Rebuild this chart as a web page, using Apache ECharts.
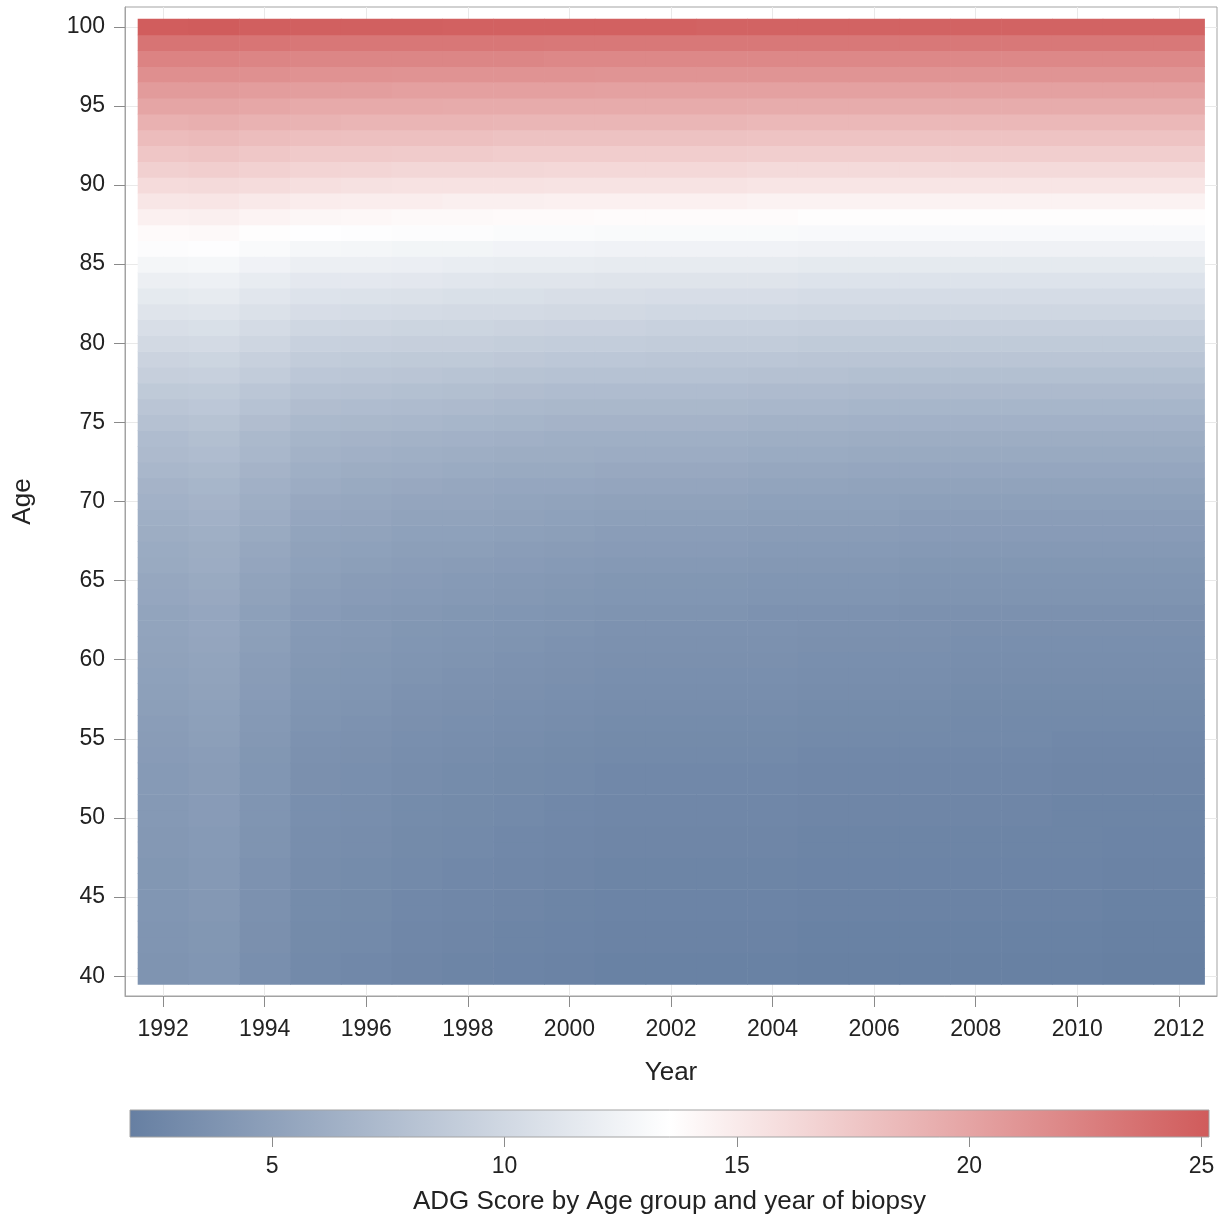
<!DOCTYPE html>
<html>
<head>
<meta charset="utf-8">
<script src="https://cdn.jsdelivr.net/npm/echarts@6/dist/echarts.min.js"></script>
<style>
  html, body { margin: 0; padding: 0; background: #ffffff; }
  #chart { width: 1225px; height: 1222px; }
</style>
</head>
<body>
<div id="chart"></div>
<script>
// Axis categories and tick labels
const years = [1992, 1993, 1994, 1995, 1996, 1997, 1998, 1999, 2000, 2001, 2002,
               2003, 2004, 2005, 2006, 2007, 2008, 2009, 2010, 2011, 2012];
const ages = [40, 41, 42, 43, 44, 45, 46, 47, 48, 49,
              50, 51, 52, 53, 54, 55, 56, 57, 58, 59,
              60, 61, 62, 63, 64, 65, 66, 67, 68, 69,
              70, 71, 72, 73, 74, 75, 76, 77, 78, 79,
              80, 81, 82, 83, 84, 85, 86, 87, 88, 89,
              90, 91, 92, 93, 94, 95, 96, 97, 98, 99, 100];
const yearTicks = [1992, 1994, 1996, 1998, 2000, 2002, 2004, 2006, 2008, 2010, 2012];
const ageTicks = [40, 45, 50, 55, 60, 65, 70, 75, 80, 85, 90, 95, 100];
const scoreTicks = [5, 10, 15, 20, 25];
const scoreRange = [1.94, 25.16];
const rampColors = ['#667fa2', '#ffffff', '#d05b5b'];

// ADG score per age (40..100) for each biopsy year
const score1992 = [3.8,3.8,3.9,3.9,4.0,4.0,4.1,4.1,4.2,4.2,
  4.3,4.3,4.4,4.4,4.5,4.6,4.7,4.8,4.9,5.0,
  5.1,5.2,5.3,5.3,5.5,5.6,5.8,5.9,6.1,6.3,
  6.5,6.7,7.0,7.3,7.5,7.9,8.3,8.7,9.2,9.6,
  10.1,10.6,11.1,11.6,12.1,12.7,13.3,13.9,14.6,15.3,
  16.1,16.9,17.6,18.3,19.1,19.9,20.6,21.5,22.3,23.4, 25.0];
const score1993 = [4.0,4.0,4.1,4.1,4.2,4.2,4.3,4.3,4.4,4.4,
  4.5,4.5,4.6,4.6,4.7,4.8,4.9,5.0,5.1,5.2,
  5.3,5.4,5.5,5.5,5.7,5.8,6.0,6.1,6.3,6.5,
  6.7,6.9,7.2,7.5,7.7,8.1,8.5,8.8,9.3,9.7,
  10.2,10.7,11.2,11.7,12.2,12.8,13.4,14.0,14.7,15.4,
  16.2,17.0,17.7,18.4,19.2,19.9,20.6,21.5,22.3,23.4, 25.1];
const score1994 = [3.4,3.4,3.5,3.5,3.6,3.6,3.7,3.7,3.8,3.8,
  3.9,3.9,4.0,4.0,4.1,4.2,4.3,4.4,4.5,4.6,
  4.7,4.8,4.9,4.9,5.1,5.2,5.4,5.6,5.8,6.0,
  6.2,6.4,6.7,7.0,7.2,7.6,8.0,8.4,8.9,9.3,
  9.8,10.3,10.8,11.3,11.8,12.4,13.1,13.7,14.4,15.1,
  16.0,16.8,17.5,18.2,19.0,19.8,20.5,21.4,22.2,23.3, 24.9];
const score1995 = [2.9,2.9,3.0,3.0,3.1,3.1,3.2,3.2,3.3,3.3,
  3.4,3.4,3.5,3.5,3.6,3.7,3.8,3.9,4.0,4.1,
  4.2,4.3,4.4,4.5,4.7,4.8,5.0,5.1,5.3,5.5,
  5.7,6.0,6.3,6.6,6.8,7.2,7.6,8.0,8.5,8.9,
  9.4,9.9,10.5,11.0,11.5,12.1,12.8,13.5,14.2,14.9,
  15.8,16.6,17.3,18.1,18.9,19.6,20.4,21.3,22.1,23.2, 24.8];
const score1996 = [2.8,2.8,2.9,2.9,3.0,3.0,3.1,3.1,3.2,3.2,
  3.3,3.3,3.4,3.4,3.5,3.6,3.7,3.8,3.9,4.0,
  4.1,4.2,4.3,4.3,4.5,4.6,4.8,5.0,5.2,5.4,
  5.6,5.8,6.1,6.4,6.7,7.1,7.5,7.9,8.4,8.8,
  9.3,9.8,10.4,10.9,11.5,12.1,12.7,13.4,14.1,14.8,
  15.7,16.5,17.3,18.0,18.8,19.6,20.4,21.3,22.1,23.2, 24.8];
const score1997 = [2.6,2.6,2.7,2.7,2.8,2.8,2.9,2.9,3.0,3.0,
  3.1,3.1,3.2,3.2,3.3,3.4,3.5,3.6,3.7,3.8,
  3.9,4.0,4.1,4.2,4.4,4.5,4.7,4.8,5.0,5.2,
  5.4,5.7,6.0,6.3,6.6,7.0,7.4,7.8,8.3,8.7,
  9.2,9.7,10.3,10.8,11.4,12.0,12.6,13.3,14.0,14.8,
  15.6,16.4,17.2,18.0,18.8,19.6,20.3,21.2,22.1,23.2, 24.8];
const score1998 = [2.5,2.5,2.6,2.6,2.7,2.7,2.8,2.8,2.9,2.9,
  3.0,3.0,3.1,3.1,3.2,3.3,3.4,3.5,3.6,3.7,
  3.8,3.9,4.0,4.1,4.3,4.4,4.6,4.8,5.0,5.2,
  5.4,5.6,5.9,6.2,6.5,6.9,7.3,7.7,8.2,8.7,
  9.2,9.7,10.2,10.7,11.3,11.9,12.6,13.3,14.0,14.7,
  15.6,16.4,17.2,18.0,18.8,19.5,20.3,21.2,22.1,23.2, 24.7];
const score1999 = [2.4,2.4,2.5,2.5,2.6,2.6,2.7,2.7,2.8,2.8,
  2.9,2.9,3.0,3.0,3.1,3.2,3.3,3.4,3.5,3.6,
  3.7,3.8,3.9,4.0,4.2,4.3,4.5,4.7,4.9,5.1,
  5.3,5.5,5.8,6.1,6.4,6.8,7.2,7.6,8.1,8.6,
  9.1,9.6,10.2,10.7,11.2,11.8,12.5,13.2,13.9,14.7,
  15.6,16.4,17.1,17.9,18.7,19.5,20.3,21.2,22.1,23.2, 24.7];
const score2000 = [2.3,2.3,2.4,2.4,2.5,2.5,2.6,2.6,2.7,2.7,
  2.8,2.8,2.9,2.9,3.0,3.1,3.2,3.3,3.4,3.5,
  3.6,3.7,3.8,3.9,4.1,4.2,4.4,4.6,4.8,5.0,
  5.2,5.5,5.8,6.1,6.3,6.7,7.1,7.5,8.0,8.5,
  9.0,9.5,10.1,10.6,11.2,11.8,12.5,13.2,13.9,14.6,
  15.5,16.3,17.1,17.9,18.7,19.5,20.3,21.2,22.0,23.1, 24.7];
const score2001 = [2.2,2.2,2.3,2.3,2.4,2.4,2.5,2.5,2.6,2.6,
  2.7,2.7,2.8,2.8,2.9,3.0,3.1,3.2,3.3,3.4,
  3.5,3.6,3.7,3.8,4.0,4.1,4.3,4.5,4.7,4.9,
  5.1,5.4,5.7,6.0,6.3,6.7,7.1,7.5,8.0,8.5,
  9.0,9.5,10.1,10.6,11.1,11.7,12.4,13.1,13.8,14.6,
  15.5,16.3,17.1,17.9,18.7,19.5,20.2,21.1,22.0,23.1, 24.7];
const score2002 = [2.2,2.2,2.3,2.3,2.4,2.4,2.5,2.5,2.6,2.6,
  2.7,2.7,2.8,2.8,2.9,3.0,3.1,3.2,3.3,3.4,
  3.5,3.6,3.7,3.8,4.0,4.1,4.3,4.5,4.7,4.9,
  5.1,5.4,5.7,6.0,6.3,6.7,7.1,7.5,8.0,8.4,
  8.9,9.4,10.0,10.5,11.1,11.7,12.4,13.1,13.8,14.6,
  15.5,16.3,17.1,17.9,18.7,19.5,20.2,21.1,22.0,23.1, 24.7];
const score2003 = [2.2,2.2,2.3,2.3,2.4,2.4,2.5,2.5,2.6,2.6,
  2.7,2.7,2.8,2.8,2.9,3.0,3.1,3.2,3.3,3.4,
  3.5,3.6,3.7,3.8,4.0,4.1,4.3,4.5,4.7,4.9,
  5.1,5.4,5.7,6.0,6.3,6.7,7.1,7.5,8.0,8.4,
  8.9,9.4,10.0,10.5,11.1,11.7,12.4,13.1,13.8,14.6,
  15.5,16.3,17.1,17.9,18.7,19.5,20.2,21.1,22.0,23.1, 24.6];
const score2004 = [2.2,2.2,2.3,2.3,2.4,2.4,2.5,2.5,2.6,2.6,
  2.7,2.7,2.8,2.8,2.9,3.0,3.1,3.2,3.3,3.4,
  3.5,3.6,3.7,3.7,3.9,4.0,4.2,4.4,4.6,4.8,
  5.0,5.3,5.6,5.9,6.2,6.6,7.0,7.4,7.9,8.4,
  8.9,9.4,10.0,10.5,11.1,11.7,12.4,13.1,13.8,14.5,
  15.4,16.2,17.0,17.8,18.6,19.4,20.2,21.1,22.0,23.1, 24.6];
const score2005 = [2.1,2.1,2.2,2.2,2.3,2.3,2.4,2.4,2.5,2.5,
  2.6,2.6,2.7,2.7,2.8,2.9,3.0,3.1,3.2,3.3,
  3.4,3.5,3.6,3.7,3.9,4.0,4.2,4.4,4.6,4.8,
  5.0,5.3,5.6,5.9,6.2,6.6,7.0,7.4,7.9,8.3,
  8.8,9.3,9.9,10.4,11.0,11.6,12.3,13.0,13.7,14.5,
  15.4,16.2,17.0,17.8,18.6,19.4,20.2,21.1,22.0,23.1, 24.6];
const score2006 = [2.1,2.1,2.2,2.2,2.3,2.3,2.4,2.4,2.5,2.5,
  2.6,2.6,2.7,2.7,2.8,2.9,3.0,3.1,3.2,3.3,
  3.4,3.5,3.6,3.7,3.9,4.0,4.2,4.4,4.6,4.8,
  5.0,5.2,5.5,5.8,6.1,6.5,6.9,7.3,7.8,8.3,
  8.8,9.3,9.9,10.4,11.0,11.6,12.3,13.0,13.7,14.5,
  15.4,16.2,17.0,17.8,18.6,19.4,20.2,21.1,22.0,23.1, 24.6];
const score2007 = [2.1,2.1,2.2,2.2,2.3,2.3,2.4,2.4,2.5,2.5,
  2.6,2.6,2.7,2.7,2.8,2.9,3.0,3.1,3.2,3.3,
  3.4,3.5,3.6,3.6,3.8,3.9,4.1,4.3,4.5,4.7,
  4.9,5.2,5.5,5.8,6.1,6.5,6.9,7.3,7.8,8.3,
  8.8,9.3,9.9,10.4,11.0,11.6,12.3,13.0,13.7,14.5,
  15.4,16.2,17.0,17.8,18.6,19.4,20.2,21.1,22.0,23.1, 24.6];
const score2008 = [2.1,2.1,2.2,2.2,2.3,2.3,2.4,2.4,2.5,2.5,
  2.6,2.6,2.7,2.7,2.8,2.9,2.9,3.0,3.1,3.2,
  3.3,3.4,3.5,3.6,3.8,3.9,4.1,4.3,4.5,4.7,
  4.9,5.2,5.5,5.8,6.1,6.5,6.9,7.3,7.8,8.3,
  8.8,9.3,9.9,10.4,11.0,11.6,12.3,13.0,13.7,14.5,
  15.4,16.2,17.0,17.8,18.6,19.4,20.2,21.1,22.0,23.1, 24.6];
const score2009 = [2.1,2.1,2.2,2.2,2.3,2.3,2.4,2.4,2.5,2.5,
  2.6,2.6,2.7,2.7,2.8,2.9,2.9,3.0,3.1,3.2,
  3.3,3.4,3.5,3.6,3.8,3.9,4.1,4.3,4.5,4.7,
  4.9,5.2,5.5,5.8,6.1,6.5,6.9,7.3,7.8,8.3,
  8.8,9.3,9.9,10.4,11.0,11.6,12.3,13.0,13.7,14.5,
  15.4,16.2,17.0,17.8,18.6,19.4,20.2,21.1,22.0,23.1, 24.6];
const score2010 = [2.1,2.1,2.2,2.2,2.3,2.3,2.4,2.4,2.5,2.5,
  2.5,2.5,2.6,2.6,2.7,2.8,2.9,3.0,3.1,3.2,
  3.3,3.4,3.5,3.6,3.8,3.9,4.1,4.3,4.5,4.7,
  4.9,5.2,5.5,5.8,6.1,6.5,6.9,7.3,7.8,8.3,
  8.8,9.3,9.9,10.4,11.0,11.6,12.3,13.0,13.7,14.5,
  15.4,16.2,17.0,17.8,18.6,19.4,20.2,21.1,22.0,23.1, 24.6];
const score2011 = [2.0,2.0,2.1,2.1,2.2,2.2,2.3,2.3,2.4,2.4,
  2.5,2.5,2.6,2.6,2.7,2.8,2.9,3.0,3.1,3.2,
  3.3,3.4,3.5,3.6,3.8,3.9,4.1,4.3,4.5,4.7,
  4.9,5.2,5.5,5.8,6.1,6.5,6.9,7.3,7.8,8.3,
  8.8,9.3,9.9,10.4,11.0,11.6,12.3,13.0,13.7,14.5,
  15.4,16.2,17.0,17.8,18.6,19.4,20.2,21.1,22.0,23.1, 24.6];
const score2012 = [2.0,2.0,2.1,2.1,2.2,2.2,2.3,2.3,2.4,2.4,
  2.5,2.5,2.6,2.6,2.7,2.8,2.9,3.0,3.1,3.2,
  3.3,3.4,3.5,3.6,3.8,3.9,4.1,4.3,4.5,4.7,
  4.9,5.2,5.5,5.8,6.1,6.5,6.9,7.3,7.8,8.3,
  8.8,9.3,9.9,10.4,11.0,11.6,12.3,13.0,13.7,14.5,
  15.4,16.2,17.0,17.8,18.6,19.4,20.2,21.1,22.0,23.1, 24.6];

const scoresByYear = [score1992, score1993, score1994, score1995, score1996, score1997,
  score1998, score1999, score2000, score2001, score2002, score2003, score2004,
  score2005, score2006, score2007, score2008, score2009, score2010, score2011, score2012];

// Flatten into [year, age, score] cells
const cells = [];
years.forEach(function (yr, i) {
  ages.forEach(function (age, j) {
    cells.push([yr, age, scoresByYear[i][j]]);
  });
});

const FONT = 'Liberation Sans, Arial, sans-serif';
const TEXT = '#222222';
const FRAME = '#a3a3a3';
const GRIDLINE = '#e9e9e9';

// One rectangle per year/age cell, spanning half a unit each side of its centre
function renderCell(params, api) {
  const yr = api.value(0);
  const age = api.value(1);
  const p0 = api.coord([yr - 0.5, age + 0.5]);
  const p1 = api.coord([yr + 0.5, age - 0.5]);
  return {
    type: 'rect',
    shape: { x: p0[0], y: p0[1], width: p1[0] - p0[0] + 0.6, height: p1[1] - p0[1] + 0.6 },
    style: { fill: api.visual('color') }
  };
}

// Gradient strip for the colour legend
function renderRamp(params, api) {
  const p0 = api.coord([api.value(0), 1]);
  const p1 = api.coord([api.value(1), 0]);
  return {
    type: 'rect',
    shape: { x: p0[0], y: p0[1], width: p1[0] - p0[0], height: p1[1] - p0[1] },
    style: {
      fill: new echarts.graphic.LinearGradient(0, 0, 1, 0, [
        { offset: 0, color: rampColors[0] },
        { offset: 0.5, color: rampColors[1] },
        { offset: 1, color: rampColors[2] }
      ]),
      stroke: FRAME,
      lineWidth: 1
    }
  };
}

const chart = echarts.init(document.getElementById('chart'), null, { renderer: 'canvas' });

chart.setOption({
  animation: false,
  backgroundColor: '#ffffff',
  textStyle: { fontFamily: FONT },
  grid: [
    { left: 125, right: 8, top: 7, bottom: 226, show: true, borderColor: FRAME, borderWidth: 1, backgroundColor: '#ffffff' },
    { left: 130, right: 16, top: 1110, height: 27, show: false }
  ],
  visualMap: {
    type: 'continuous',
    show: false,
    seriesIndex: 0,
    dimension: 2,
    min: scoreRange[0],
    max: scoreRange[1],
    inRange: { color: rampColors }
  },
  xAxis: [
    {
      gridIndex: 0,
      type: 'value',
      min: 1991.25,
      max: 2012.75,
      minInterval: 2,
      maxInterval: 2,
      name: 'Year',
      nameLocation: 'middle',
      nameGap: 64,
      nameTextStyle: { fontSize: 26, color: TEXT, fontFamily: FONT },
      axisLine: { show: true, onZero: false, lineStyle: { color: FRAME, width: 1 } },
      axisTick: { show: true, inside: false, length: 11, customValues: yearTicks, lineStyle: { color: '#8a8a8a' } },
      axisLabel: { customValues: yearTicks, margin: 22, fontSize: 23, color: TEXT, fontFamily: FONT, formatter: function (v) { return String(v); } },
      splitLine: { show: true, lineStyle: { color: GRIDLINE, width: 1 } }
    },
    {
      gridIndex: 1,
      type: 'value',
      min: scoreRange[0],
      max: scoreRange[1],
      name: 'ADG Score by Age group and year of biopsy',
      nameLocation: 'middle',
      nameGap: 52,
      nameTextStyle: { fontSize: 26, color: TEXT, fontFamily: FONT },
      axisLine: { show: false },
      axisTick: { show: true, inside: false, length: 10, customValues: scoreTicks, lineStyle: { color: '#8a8a8a' } },
      axisLabel: { customValues: scoreTicks, margin: 18, fontSize: 23, color: TEXT, fontFamily: FONT },
      splitLine: { show: false }
    }
  ],
  yAxis: [
    {
      gridIndex: 0,
      type: 'value',
      min: 38.75,
      max: 101.25,
      minInterval: 5,
      maxInterval: 5,
      name: 'Age',
      nameLocation: 'middle',
      nameGap: 89,
      nameTextStyle: { fontSize: 26, color: TEXT, fontFamily: FONT },
      axisLine: { show: true, onZero: false, lineStyle: { color: FRAME, width: 1 } },
      axisTick: { show: true, inside: false, length: 11, customValues: ageTicks, lineStyle: { color: '#8a8a8a' } },
      axisLabel: { customValues: ageTicks, margin: 20, fontSize: 23, color: TEXT, fontFamily: FONT },
      splitLine: { show: true, lineStyle: { color: GRIDLINE, width: 1 } }
    },
    {
      gridIndex: 1,
      type: 'value',
      min: 0,
      max: 1,
      show: false
    }
  ],
  series: [
    {
      type: 'custom',
      name: 'ADG Score',
      xAxisIndex: 0,
      yAxisIndex: 0,
      dimensions: ['year', 'age', 'score'],
      encode: { x: 0, y: 1 },
      renderItem: renderCell,
      data: cells,
      z: 2
    },
    {
      type: 'custom',
      name: 'ramp',
      xAxisIndex: 1,
      yAxisIndex: 1,
      renderItem: renderRamp,
      data: [[scoreRange[0], scoreRange[1]]],
      silent: true,
      z: 2
    }
  ]
});
</script>
</body>
</html>
